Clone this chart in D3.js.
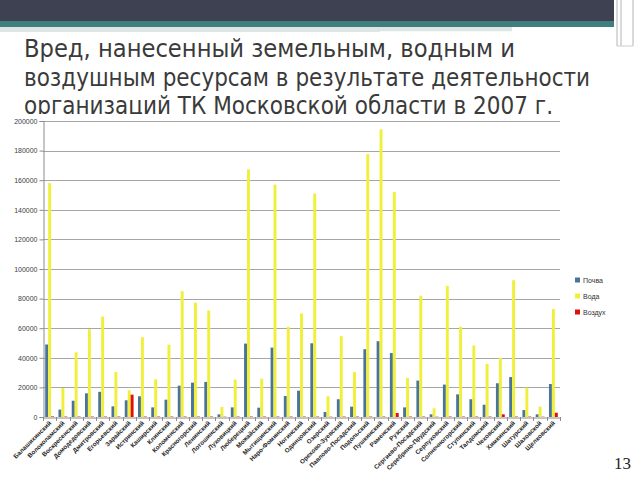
<!DOCTYPE html>
<html>
<head>
<meta charset="utf-8">
<script src="https://cdn.jsdelivr.net/npm/d3@7"></script>
<style>
  html, body { margin: 0; padding: 0; background: #ffffff; }
  svg { display: block; }
</style>
</head>
<body>
<svg id="chart" width="640" height="480"></svg>
<script>
const titleLines = [
  "Вред, нанесенный земельным, водным и",
  "воздушным ресурсам в результате деятельности",
  "организаций ТК Московской области в 2007 г."
];
const categories = [
  "Балашихинский","Волоколамский","Воскресенский","Домодедовский","Дмитровский",
  "Егорьевский","Зарайский","Истринский","Каширский","Клинский",
  "Коломенский","Красногорский","Ленинский","Лотошинский","Луховицкий",
  "Люберецкий","Можайский","Мытищинский","Наро-Фоминский","Ногинский",
  "Одинцовский","Озерский","Орехово-Зуевский","Павлово-Посадский","Подольский",
  "Пушкинский","Раменский","Рузский","Сергиево-Посадский","Серебряно-Прудский",
  "Серпуховский","Солнечногорский","Ступинский","Талдомский","Чеховский",
  "Химкинский","Шатурский","Шаховской","Щелковский"
];
const seriesNames = ["Почва", "Вода", "Воздух"];
const pochva = [49000,5000,11000,16000,17000,7200,11300,14000,6500,11700,
  21200,23200,23700,1800,6500,49600,6300,46900,14200,17800,
  49800,3400,12000,7000,45800,51200,43200,6500,24600,1800,
  21900,15300,12000,8300,22800,27000,4700,1800,22300];
const voda = [158000,19600,43700,59300,67900,30400,18000,53900,25500,48900,
  85000,77300,72000,6800,25300,167300,25900,157000,60900,69900,
  151000,14000,54600,30400,177700,194400,152000,26400,82000,5900,
  88600,61000,48300,35900,39900,92400,19800,7000,73000];
const vozduh = [400,300,300,300,300,300,15100,300,300,300,
  300,300,300,200,300,300,300,300,300,300,
  300,200,300,300,300,300,2700,300,300,200,
  300,300,300,300,1800,300,300,200,2900];
const yTicks = [0,20000,40000,60000,80000,100000,120000,140000,160000,180000,200000];
const colors = ["#4a7598", "#f0f03c", "#e01010"];

const svg = d3.select("#chart");

// Header decoration
svg.append("rect").attr("x",0).attr("y",0).attr("width",614).attr("height",21).attr("fill","#3e4152");
svg.append("rect").attr("x",0).attr("y",21).attr("width",614).attr("height",6).attr("fill","#3f7f7e");
svg.append("rect").attr("x",0).attr("y",27).attr("width",512).attr("height",5).attr("fill","#dfe5e5");
svg.append("line").attr("x1",380).attr("x2",592).attr("y1",32).attr("y2",32).attr("stroke","#ffffff").attr("stroke-width",1.5);
[617,621,633].forEach(x => {
  svg.append("line").attr("x1",x).attr("x2",x).attr("y1",0).attr("y2",46)
    .attr("stroke","#b0b4b8").attr("stroke-width",1);
});
svg.append("line").attr("x1",617).attr("x2",633).attr("y1",46).attr("y2",46).attr("stroke","#c8cccf").attr("stroke-width",1);

// Title
const titleW = [491, 566, 529];
const titleY = [57, 86, 114];
titleLines.forEach((t,i) => {
  svg.append("text")
    .attr("x",24).attr("y",titleY[i])
    .attr("font-family","'DejaVu Sans', sans-serif")
    .attr("font-size",24)
    .attr("fill","#3a3a3a")
    .attr("textLength",titleW[i])
    .attr("lengthAdjust","spacingAndGlyphs")
    .text(t);
});

// Chart area background (covers title descenders)
svg.append("rect").attr("x",0).attr("y",114).attr("width",640).attr("height",366).attr("fill","#ffffff");

const x0 = 43, x1 = 560, yTop = 121, yBot = 417;
const x = d3.scaleBand().domain(categories).range([x0,x1]).paddingInner(0).paddingOuter(0);
const y = d3.scaleLinear().domain([0,200000]).range([yBot,yTop]);
const gap = x.bandwidth()/4.5*0.75;
const xs = d3.scaleBand().domain(seriesNames).range([gap, x.bandwidth()-gap]);

// Gridlines
svg.append("g").selectAll("line").data(yTicks.slice(1)).join("line")
  .attr("x1",x0).attr("x2",x1)
  .attr("y1",d=>Math.round(y(d))+0.5).attr("y2",d=>Math.round(y(d))+0.5)
  .attr("stroke","#a6a6a6").attr("stroke-width",1);

// Y axis
const yAxis = svg.append("g").attr("transform",`translate(${x0+0.5},0)`)
  .call(d3.axisLeft(y).tickValues(yTicks).tickFormat(d3.format("d")).tickSize(4));
yAxis.select(".domain").attr("stroke","#8c8c8c");
yAxis.selectAll(".tick line").attr("stroke","#8c8c8c");
yAxis.selectAll("text").attr("font-family","'Liberation Sans', Arial, sans-serif")
  .attr("font-size",7).attr("fill","#404040").attr("x",-6);

// Bars
const data = categories.map((c,i)=>({c, vals:[pochva[i],voda[i],vozduh[i]]}));
const groups = svg.append("g").selectAll("g").data(data).join("g")
  .attr("transform",d=>`translate(${x(d.c)},0)`);
groups.selectAll("rect").data(d=>d.vals.map((v,k)=>({k,v}))).join("rect")
  .attr("x",d=>xs(seriesNames[d.k]))
  .attr("width",xs.bandwidth())
  .attr("y",d=>y(d.v))
  .attr("height",d=>yBot-y(d.v))
  .attr("fill",d=>colors[d.k]);

// X axis
const xAxis = svg.append("g").attr("transform",`translate(0,${yBot+0.5})`)
  .call(d3.axisBottom(x).tickSize(0));
xAxis.select(".domain").attr("stroke","#8c8c8c");
xAxis.selectAll(".tick line").remove();
svg.append("g").selectAll("line").data(categories.concat(["__end"])).join("line")
  .attr("x1",(d,i)=>Math.round(x0 + i*x.bandwidth())+0.5)
  .attr("x2",(d,i)=>Math.round(x0 + i*x.bandwidth())+0.5)
  .attr("y1",yBot).attr("y2",yBot+4)
  .attr("stroke","#8c8c8c");
xAxis.selectAll("text")
  .attr("font-family","'Liberation Sans', Arial, sans-serif")
  .attr("font-size",6.3).attr("font-weight","bold").attr("fill","#262626")
  .attr("text-anchor","end").attr("dy",0).attr("y",0)
  .attr("transform",`translate(2,6) rotate(-45)`);

// Legend
const legend = svg.append("g").attr("transform","translate(575,280)");
seriesNames.forEach((s,i)=>{
  legend.append("rect").attr("x",0).attr("y",i*16-2.5).attr("width",5).attr("height",5).attr("fill",colors[i]);
  legend.append("text").attr("x",8).attr("y",i*16+2.5)
    .attr("font-family","'Liberation Sans', Arial, sans-serif")
    .attr("font-size",7).attr("fill","#333").text(s);
});

// Page number
svg.append("text").attr("x",631).attr("y",469).attr("text-anchor","end")
  .attr("font-family","'Liberation Serif', 'DejaVu Serif', serif")
  .attr("font-size",17).attr("fill","#222").text("13");
</script>
</body>
</html>
